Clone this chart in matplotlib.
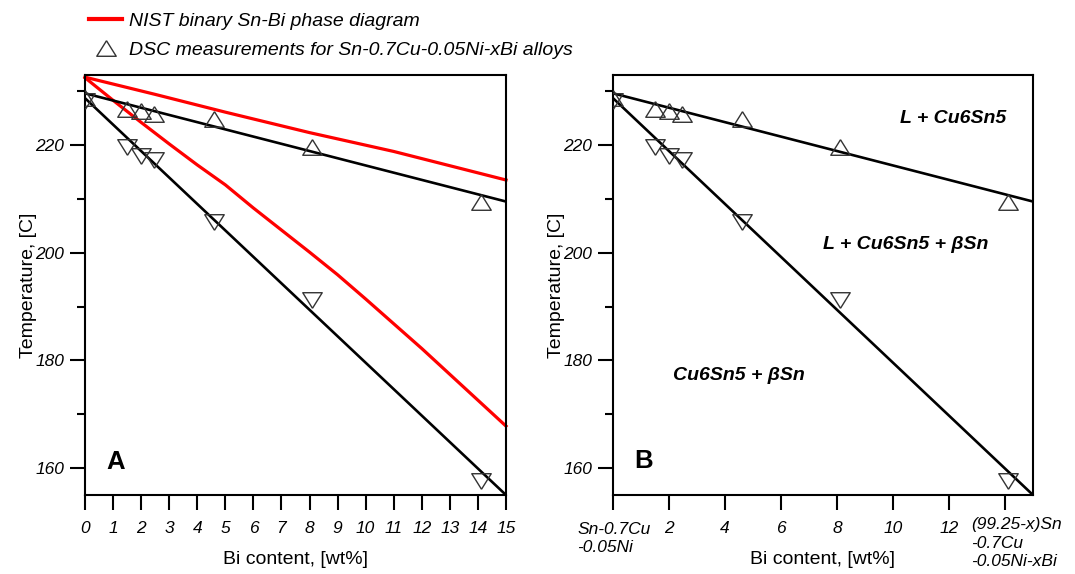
import matplotlib
matplotlib.use("Agg")
import matplotlib.pyplot as plt
from matplotlib.lines import Line2D
from matplotlib.ticker import MultipleLocator
import matplotlib.transforms as mtransforms

plt.rcParams['font.family'] = ['Liberation Sans', 'DejaVu Sans']

# ---- data ----
bi_wt = [0.0, 1.5, 2.0, 2.45, 4.6, 8.1, 14.1]
liquidus_dsc = [228.7, 226.7, 226.3, 225.8, 224.8, 219.6, 209.5]
solidus_dsc = [228.1, 219.7, 218.0, 217.2, 205.7, 191.2, 157.6]

fit_x = [0.0, 15.0]
fit_liquidus = [229.6, 209.5]
fit_solidus = [228.7, 155.0]

nist_liq_x = [0.0, 2.5, 5.0, 8.0, 11.0, 15.0]
nist_liq_y = [232.6, 229.4, 226.1, 222.3, 218.8, 213.5]
nist_sol_x = [0, 1, 2, 3, 4, 5, 6, 7, 8, 9, 10, 11, 12, 13, 14, 15]
nist_sol_y = [232.5, 228.3, 224.2, 220.2, 216.3, 212.6, 208.3, 204.2, 200.1,
              195.9, 191.4, 186.8, 182.2, 177.4, 172.6, 167.8]

ticks_a = list(range(0, 16))
ticks_b = [0, 2, 4, 6, 8, 10, 12, 14]
ticklabels_b = ['', '2', '4', '6', '8', '10', '12', '']
yticks = [160, 180, 200, 220]

# flattened triangle markers (wider than tall)
tri_up = [(0, 0.8), (-1, -0.8), (1, -0.8), (0, 0.8)]
tri_down = [(0, -0.8), (-1, 0.8), (1, 0.8), (0, -0.8)]

fig = plt.figure(figsize=(10.75, 5.74), dpi=100)
axA = fig.add_axes([85/1075, 79/574, 421/1075, 420/574])
axB = fig.add_axes([613/1075, 79/574, 420/1075, 420/574])

mk = dict(linestyle='none', markersize=14, markerfacecolor='none',
          markeredgecolor='#333333', markeredgewidth=1.0, zorder=4)

for ax in (axA, axB):
    ax.set_xlim(0, 15)
    ax.set_ylim(155, 233)
    ax.plot(fit_x, fit_liquidus, color='black', lw=1.9, zorder=3)
    ax.plot(fit_x, fit_solidus, color='black', lw=1.9, zorder=3)
    ax.plot(bi_wt, liquidus_dsc, marker=tri_up, **mk)
    ax.plot(bi_wt, solidus_dsc, marker=tri_down, **mk)
    ax.set_yticks(yticks)
    ax.yaxis.set_minor_locator(MultipleLocator(10))
    ax.tick_params(axis='both', which='major', direction='out', length=11,
                   width=1.5, labelsize=12.5)
    ax.tick_params(axis='x', which='major', pad=8)
    ax.tick_params(axis='y', which='major', pad=4)
    ax.tick_params(axis='y', which='minor', direction='out', length=5.5, width=1.5)
    for lab in ax.get_yticklabels():
        lab.set_fontstyle('italic')
    for s in ax.spines.values():
        s.set_linewidth(1.5)
    ax.set_ylabel('Temperature, [C]', fontsize=14)
    ax.set_xlabel('Bi content, [wt%]', fontsize=14)
    ax.yaxis.set_label_coords(-0.114, 0.5)
    ax.xaxis.set_label_coords(0.5, -0.134)

axA.plot(nist_liq_x, nist_liq_y, color='#ff0000', lw=2.3, zorder=2, clip_on=False)
axA.plot(nist_sol_x, nist_sol_y, color='#ff0000', lw=2.3, zorder=2, clip_on=False)
axA.set_xticks(ticks_a)
axA.set_xticklabels([str(t) for t in ticks_a], fontstyle='italic')

axB.set_xticks(ticks_b)
axB.set_xticklabels(ticklabels_b, fontstyle='italic')
trB = mtransforms.blended_transform_factory(axB.transData, axB.transAxes)
axB.text(-1.28, -0.064, 'Sn-0.7Cu\n-0.05Ni', transform=trB, ha='left', va='top',
         fontsize=12.5, fontstyle='italic', linespacing=1.3)
axB.text(12.79, -0.053, '(99.25-x)Sn\n-0.7Cu\n-0.05Ni-xBi', transform=trB, ha='left',
         va='top', fontsize=12.5, fontstyle='italic', linespacing=1.3)

axA.text(1.08, 161.1, 'A', fontsize=18.5, fontweight='bold', ha='center', va='center')
axB.text(1.10, 161.3, 'B', fontsize=18.5, fontweight='bold', ha='center', va='center')

rtxt = dict(fontsize=14, fontweight='bold', fontstyle='italic', ha='center', va='center')
axB.text(12.13, 225.0, 'L + Cu6Sn5', **rtxt)
axB.text(10.46, 201.6, 'L + Cu6Sn5 + βSn', **rtxt)
axB.text(4.5, 177.1, 'Cu6Sn5 + βSn', **rtxt)

handles = [Line2D([], [], color='#ff0000', lw=3.0),
           Line2D([], [], marker=tri_up, linestyle='none', markersize=14,
                  markerfacecolor='none', markeredgecolor='#333333', markeredgewidth=1.0)]
labels = ['NIST binary Sn-Bi phase diagram',
          'DSC measurements for Sn-0.7Cu-0.05Ni-xBi alloys']
fig.legend(handles, labels, loc='upper left', bbox_to_anchor=(89/1075, 1 - 12/574),
           frameon=False, borderpad=0, borderaxespad=0, handlelength=1.7,
           handletextpad=0.35, labelspacing=0.6,
           prop=dict(size=14, style='italic'))

fig.savefig('out.png', dpi=100)
